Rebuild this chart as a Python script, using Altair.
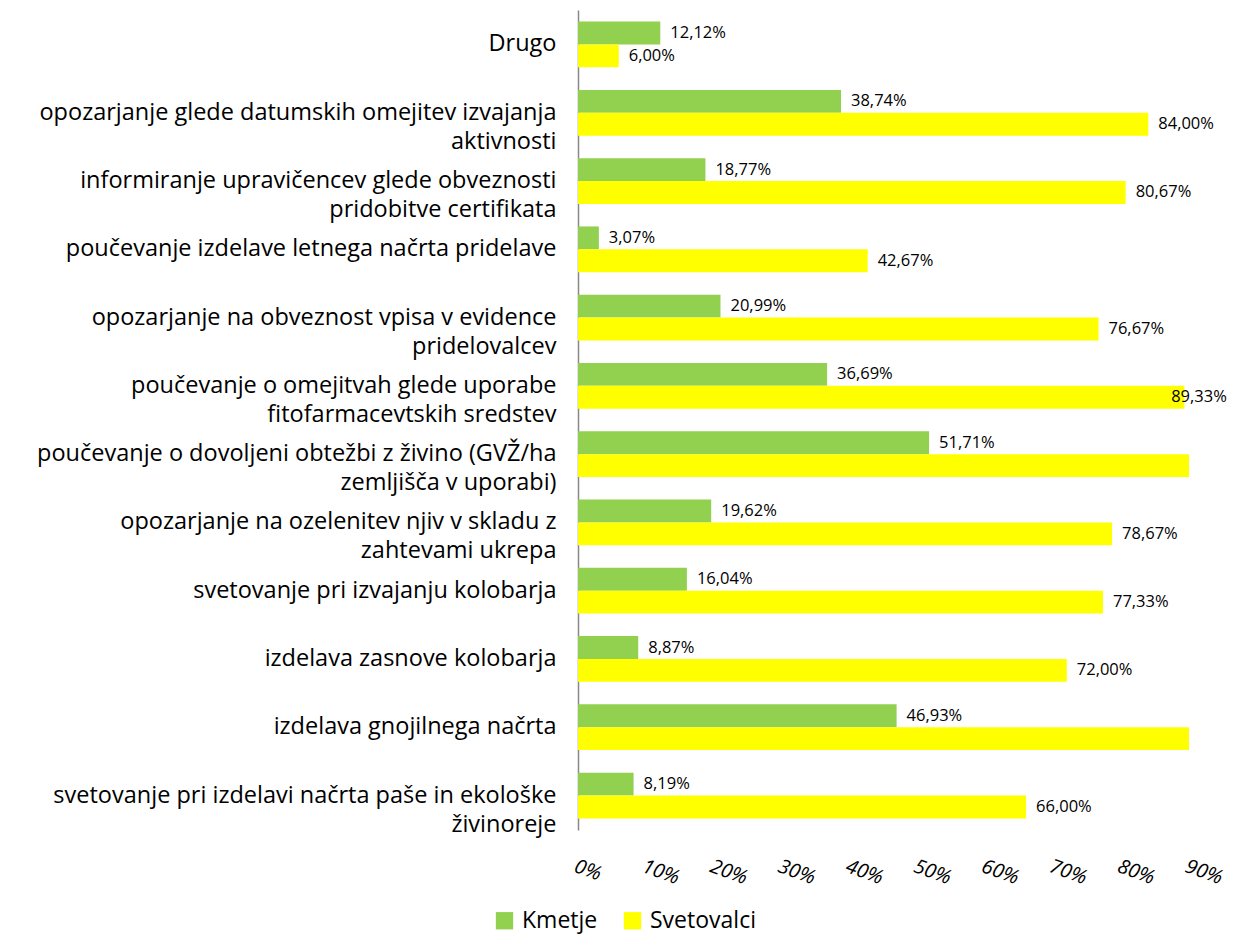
import altair as alt
import pandas as pd

categories = [
    "Drugo",
    "opozarjanje glede datumskih omejitev izvajanja\naktivnosti",
    "informiranje upravičencev glede obveznosti\npridobitve certifikata",
    "poučevanje izdelave letnega načrta pridelave",
    "opozarjanje na obveznost vpisa v evidence\npridelovalcev",
    "poučevanje o omejitvah glede uporabe\nfitofarmacevtskih sredstev",
    "poučevanje o dovoljeni obtežbi z živino (GVŽ/ha\nzemljišča v uporabi)",
    "opozarjanje na ozelenitev njiv v skladu z\nzahtevami ukrepa",
    "svetovanje pri izvajanju kolobarja",
    "izdelava zasnove kolobarja",
    "izdelava gnojilnega načrta",
    "svetovanje pri izdelavi načrta paše in ekološke\nživinoreje",
]
kmetje = [12.12, 38.74, 18.77, 3.07, 20.99, 36.69, 51.71, 19.62, 16.04, 8.87, 46.93, 8.19]
svetovalci = [6.00, 84.00, 80.67, 42.67, 76.67, 89.33, 94.00, 78.67, 77.33, 72.00, 93.33, 66.00]
series = ["Kmetje", "Svetovalci"]
colors = ["#92D050", "#FFFF00"]
x_ticks = [0, 10, 20, 30, 40, 50, 60, 70, 80, 90]

rows = []
for c, k, s in zip(categories, kmetje, svetovalci):
    rows.append({"cat": c, "series": series[0], "value": k})
    rows.append({"cat": c, "series": series[1], "value": s})
df = pd.DataFrame(rows)

FONT = "Open Sans"

y_enc = alt.Y(
    "cat:N",
    sort=categories,
    scale=alt.Scale(paddingInner=0.33, paddingOuter=0.17),
    axis=alt.Axis(
        title=None,
        labelExpr="split(datum.label, '\\n')",
        labelFontSize=23.5,
        labelFont=FONT,
        labelColor="#000000",
        labelPadding=22,
        labelLimit=800,
        labelLineHeight=29,
        ticks=False,
        domainColor="#888888",
        domainWidth=1.5,
        grid=False,
    ),
)
yoff = alt.YOffset("series:N", sort=series, scale=alt.Scale(paddingInner=0, paddingOuter=0))
x_enc = alt.X(
    "value:Q",
    scale=alt.Scale(domain=[0, 90], nice=False),
    axis=alt.Axis(
        title=None,
        values=x_ticks,
        labelExpr="datum.value + '%'",
        labelAngle=20,
        labelAlign="left",
        labelBaseline="top",
        labelFontSize=20,
        labelFont=FONT,
        labelFontStyle="italic",
        labelColor="#000000",
        labelPadding=26,
        domain=False,
        ticks=False,
        grid=False,
    ),
)

base = alt.Chart(df)

bars = base.mark_bar(clip=True).encode(
    x=x_enc,
    y=y_enc,
    yOffset=yoff,
    color=alt.Color(
        "series:N",
        sort=series,
        scale=alt.Scale(domain=series, range=colors),
        legend=alt.Legend(
            title=None,
            orient="none",
            direction="horizontal",
            legendX=-85,
            legendY=899,
            symbolType="square",
            symbolSize=300,
            symbolStrokeWidth=0,
            labelFontSize=23,
            labelFont=FONT,
            labelColor="#000000",
            columnPadding=23,
            labelOffset=6,
        ),
    ),
)

# labels that would run past the right edge are pulled inside, as in the original
labels = base.transform_filter("datum.value <= 90").transform_calculate(
    lbl="replace(format(datum.value, '.2f'), '.', ',') + '%'",
    lx="min(datum.value, 85.9)",
).mark_text(align="left", baseline="middle", dx=10, fontSize=16.5, font=FONT, color="#000000").encode(
    x=alt.X("lx:Q", scale=alt.Scale(domain=[0, 90], nice=False)),
    y=alt.Y("cat:N", sort=categories),
    yOffset=alt.YOffset("series:N", sort=series),
    text="lbl:N",
)

chart = (
    alt.layer(bars, labels)
    .properties(
        width=611,
        height=820,
        autosize=alt.AutoSizeParams(type="none"),
        padding={"left": 570, "top": 2, "right": 39, "bottom": 104},
    )
    .configure(background="white")
    .configure_view(stroke=None)
)

chart.save("out.html", embed_options={"renderer": "svg", "actions": False})
